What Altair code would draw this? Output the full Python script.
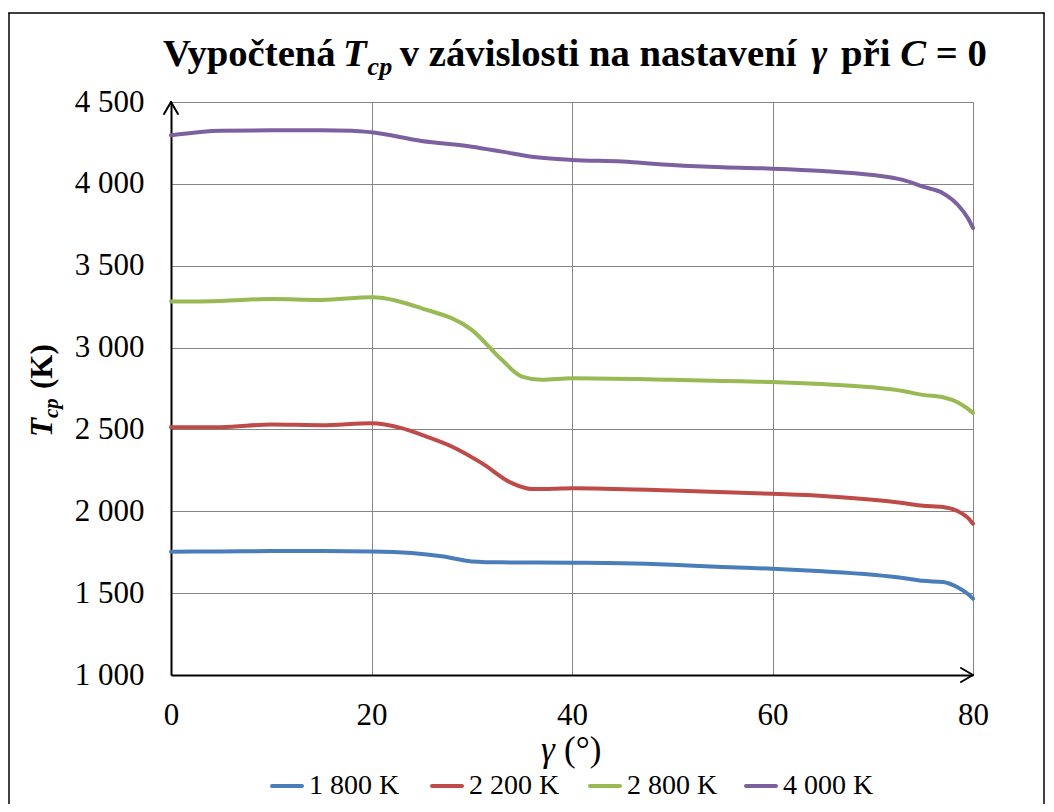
import altair as alt
import pandas as pd

# ---------------- data ----------------
series_names = ["1 800 K", "2 200 K", "2 800 K", "4 000 K"]
series_colors = ["#4A7EBB", "#BE4B48", "#98B954", "#7D60A0"]

gamma_1800 = [0, 5, 10, 15, 20, 24, 27, 30, 33, 40, 45, 50, 55, 60, 65, 70, 73, 75, 77, 78.5, 79.5, 80]
tcp_1800 = [1753, 1755, 1757, 1757, 1755, 1745, 1725, 1694, 1688, 1686, 1683, 1674, 1660, 1649, 1633, 1612, 1593, 1575, 1568, 1535, 1495, 1466]

gamma_2200 = [0, 5, 10, 15, 20, 23, 25, 28, 31, 34, 36, 38, 40, 50, 60, 65, 70, 73, 75, 77, 78.5, 79.5, 80]
tcp_2200 = [2514, 2514, 2530, 2526, 2538, 2508, 2467, 2396, 2294, 2172, 2136, 2137, 2141, 2127, 2107, 2094, 2070, 2050, 2034, 2026, 2000, 1960, 1924]

gamma_2800 = [0, 5, 10, 15, 20, 25, 30, 33, 35, 37, 40, 50, 60, 65, 70, 73, 75, 77, 78.5, 79.5, 80]
tcp_2800 = [3281, 3285, 3297, 3291, 3308, 3240, 3108, 2925, 2823, 2803, 2813, 2803, 2789, 2777, 2757, 2735, 2711, 2697, 2665, 2625, 2600]

gamma_4000 = [0, 5, 10, 15, 18, 20, 25, 30, 33, 36, 40, 45, 50, 55, 60, 65, 70, 73, 75, 77, 78.5, 79.5, 80]
tcp_4000 = [4297, 4325, 4327, 4327, 4325, 4315, 4262, 4227, 4197, 4166, 4146, 4136, 4115, 4101, 4093, 4079, 4054, 4024, 3983, 3943, 3871, 3790, 3731]

x_ticks = [0, 20, 40, 60, 80]
y_ticks = [1000, 1500, 2000, 2500, 3000, 3500, 4000, 4500]

rows = []
for name, xs, ys in zip(series_names,
                        [gamma_1800, gamma_2200, gamma_2800, gamma_4000],
                        [tcp_1800, tcp_2200, tcp_2800, tcp_4000]):
    for xv, yv in zip(xs, ys):
        rows.append({"gamma": xv, "tcp": yv, "series": name})
df = pd.DataFrame(rows)

# ---------------- layout ----------------
W, H = 802, 573
PAD_L, PAD_T = 163, 94
TOTAL_W, TOTAL_H = 1038, 796
X0, Y0 = 8 + PAD_L, 8 + PAD_T  # page position of plot origin
FONT = "Liberation Serif"
GRID = "#858585"

one = pd.DataFrame({"k": [0]})


def rule(x1, y1, x2, y2, color="black", width=2, cap="round"):
    return alt.Chart(one).mark_rule(color=color, strokeWidth=width, strokeCap=cap).encode(
        x=alt.value(x1), y=alt.value(y1), x2=alt.value(x2), y2=alt.value(y2))


def txt(s, px, py, size, style="normal", weight="normal", angle=0, align="left", baseline="alphabetic"):
    return alt.Chart(one).mark_text(
        text=s, font=FONT, fontSize=size, fontStyle=style, fontWeight=weight,
        angle=angle, align=align, baseline=baseline, color="black"
    ).encode(x=alt.value(px - X0), y=alt.value(py - Y0))


lines = alt.Chart(df).mark_line(interpolate="monotone", strokeWidth=4, strokeCap="round").encode(
    x=alt.X("gamma:Q", scale=alt.Scale(domain=[0, 80], nice=False, zero=False),
            axis=alt.Axis(values=x_ticks, title=None, grid=True, gridColor=GRID, gridWidth=1,
                          ticks=False, tickSize=0, domainColor="black", domainWidth=2,
                          labelFont=FONT, labelFontSize=31, labelColor="black", labelPadding=25,
                          labelFlush=False)),
    y=alt.Y("tcp:Q", scale=alt.Scale(domain=[1000, 4500], nice=False, zero=False),
            axis=alt.Axis(values=y_ticks, title=None, grid=True, gridColor=GRID, gridWidth=1,
                          ticks=False, tickSize=0, domainColor="black", domainWidth=2,
                          labelFont=FONT, labelFontSize=31, labelColor="black", labelPadding=27,
                          labelExpr="replace(format(datum.value, ','), ',', ' ')")),
    color=alt.Color("series:N", sort=series_names,
                    scale=alt.Scale(domain=series_names, range=series_colors),
                    legend=None),
)

layers = [lines]

# axis arrows
layers += [
    rule(0, 0, -7, 12), rule(0, 0, 7, 12),
    rule(W, H, W - 12, H - 7), rule(W, H, W - 12, H + 7),
]

# chart frame
FR_T = 13 - Y0
FR_L = 9 - X0
FR_R = 1044 - X0
FR_B = TOTAL_H + 8 - Y0
layers += [
    rule(FR_L, FR_T, FR_R, FR_T, width=1.5),
    rule(FR_L, FR_T, FR_L, FR_B, width=1.5),
    rule(FR_R, FR_T, FR_R, FR_B, width=1.5),
]

# legend (line swatch + label per series)
LEG_Y = 786
leg_starts = [272, 432, 590, 746]
for name, col, lx in zip(series_names, series_colors, leg_starts):
    layers.append(rule(lx - X0, LEG_Y - Y0, lx + 30 - X0, LEG_Y - Y0, color=col, width=4))
    layers.append(txt(name, lx + 37, LEG_Y, 28, baseline="middle"))

# title: runs laid out with Times-compatible advance widths (per 1000 em)
ADV = {" ": 250, "V": 722, "y": 500, "p": 556, "o": 500, "č": 444, "t": 333, "e": 444,
       "n": 556, "á": 500, "v": 500, "z": 444, "i": 278, "í": 278, "s": 389, "l": 278,
       "a": 500, "ř": 444, "=": 570, "0": 500}
ADV_I = {" ": 250, "T": 611, "c": 444, "p": 500, "γ": 470, "C": 667}
T_SIZE, SUB_SIZE, TB = 38.7, 26, 66
runs = [("Vypočtená ", "normal", T_SIZE, 0, 0), ("T", "italic", T_SIZE, 0, -6), ("cp", "italic", SUB_SIZE, 9, -5),
        (" v závislosti na nastavení ", "normal", T_SIZE, 0, -7), ("γ", "italic", T_SIZE, 0, -2),
        (" při ", "normal", T_SIZE, 0, 0), ("C", "italic", T_SIZE, 0, 0), (" = 0", "normal", T_SIZE, 0, 0)]
cx = 163.0
for s, st, sz, dy, kern in runs:
    table = ADV_I if st == "italic" else ADV
    lead = len(s) - len(s.lstrip(" "))
    shown = s.strip(" ")
    layers.append(txt(shown, cx + kern + lead * table[" "] * sz / 1000.0, TB + dy, sz, style=st, weight="bold"))
    cx += sum(table[ch] for ch in s) * sz / 1000.0

# y axis title (rotated)
layers += [
    txt("T", 52, 437, 31, style="italic", weight="bold", angle=270),
    txt("cp", 58, 418, 21, style="italic", weight="bold", angle=270),
    txt("(K)", 52, 389, 31, weight="bold", angle=270),
]

# x axis title
layers += [
    txt("γ", 541, 761, 35, style="italic"),
    txt("(°)", 564, 761, 35),
]

chart = alt.layer(*layers).properties(
    width=W, height=H,
    padding={"left": PAD_L, "top": PAD_T, "right": TOTAL_W - PAD_L - W, "bottom": TOTAL_H - PAD_T - H},
    autosize=alt.AutoSizeParams(type="none"),
    background="white",
).configure_view(stroke=None)

chart.save("out.html", embed_options={"renderer": "svg", "actions": False})
